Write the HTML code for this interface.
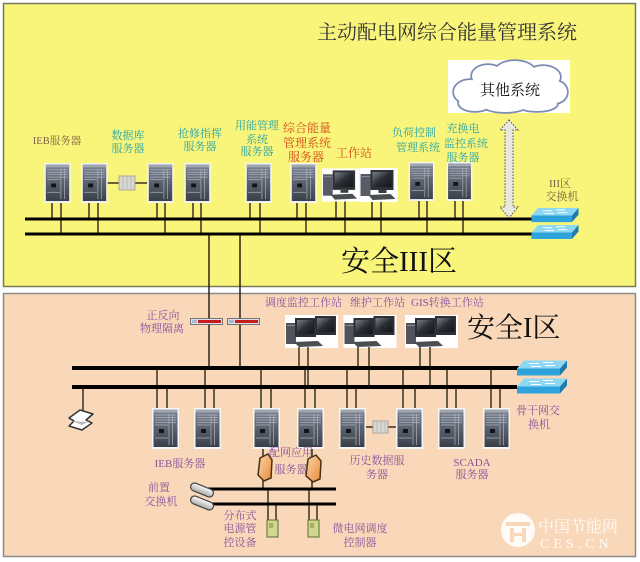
<!DOCTYPE html>
<html><head><meta charset="utf-8">
<style>
html,body{margin:0;padding:0;background:#fff;}
svg{display:block;}
text{font-family:"Liberation Serif","Noto Serif CJK SC",serif;}
</style></head><body>
<svg width="640" height="562" viewBox="0 0 640 562" xmlns="http://www.w3.org/2000/svg" xmlns:xlink="http://www.w3.org/1999/xlink">
<defs>
<linearGradient id="gsrv" x1="0" y1="0" x2="0" y2="1">
 <stop offset="0" stop-color="#7d8492"/><stop offset="1" stop-color="#394049"/>
</linearGradient>
<linearGradient id="gscr" x1="0" y1="0" x2="1" y2="1">
 <stop offset="0" stop-color="#7a8088"/><stop offset="0.5" stop-color="#2a2e34"/><stop offset="1" stop-color="#121417"/>
</linearGradient>
<linearGradient id="gor" x1="0" y1="0" x2="1" y2="1">
 <stop offset="0" stop-color="#fbd7a8"/><stop offset="1" stop-color="#e88a3c"/>
</linearGradient>
<linearGradient id="gcap" x1="0" y1="0" x2="0" y2="1">
 <stop offset="0" stop-color="#ffffff"/><stop offset="1" stop-color="#a8a8a8"/>
</linearGradient>
<symbol id="srv" viewBox="0 0 27 41">
 <rect x="0" y="0" width="27" height="41" fill="#f6f6f6"/>
 <rect x="1.5" y="1.5" width="24" height="37.5" fill="url(#gsrv)"/>
 <rect x="1.5" y="1.5" width="24" height="3" fill="#a0a6b0"/>
 <g stroke="#b0b6c0" stroke-width="0.7">
  <line x1="3" y1="7" x2="24" y2="7"/>
  <line x1="3" y1="9.5" x2="24" y2="9.5"/>
  <line x1="3" y1="12" x2="24" y2="12"/>
  <line x1="3" y1="14.5" x2="24" y2="14.5"/>
  <line x1="3" y1="17" x2="16" y2="17"/>
  <line x1="17" y1="6" x2="17" y2="37"/>
  <line x1="20.5" y1="6" x2="20.5" y2="37"/>
  <line x1="3" y1="30" x2="16" y2="30"/>
 </g>
 <rect x="7" y="21" width="5" height="4" fill="#111418"/>
</symbol>
<symbol id="ws1" viewBox="0 0 38 34">
 <rect width="38" height="34" fill="#fff"/>
 <rect x="1" y="6" width="10" height="22" fill="#585c64"/>
 <rect x="2" y="8" width="8" height="1" fill="#8a8e96"/>
 <rect x="11" y="2" width="23" height="20" fill="#2e3137"/>
 <rect x="13" y="4" width="19" height="15" fill="url(#gscr)"/>
 <rect x="19" y="22" width="8" height="3" fill="#3a3d42"/>
 <polygon points="9,27 31,26 36,31 13,32" fill="#4a4d52"/>
</symbol>
<symbol id="ws2" viewBox="0 0 53 33">
 <rect width="53" height="33" fill="#fff"/>
 <rect x="1" y="8" width="10" height="21" fill="#50545c"/>
 <rect x="2" y="10" width="8" height="1" fill="#8a8e96"/>
 <rect x="10" y="3" width="21" height="19" fill="#2c2f35"/>
 <rect x="12" y="5" width="17" height="14" fill="url(#gscr)"/>
 <rect x="30" y="1" width="21" height="19" fill="#2c2f35"/>
 <rect x="32" y="3" width="17" height="14" fill="url(#gscr)"/>
 <polygon points="9,27 33,26 38,31 14,32" fill="#4a4d52"/>
</symbol>
<symbol id="sw" viewBox="0 0 50 34">
 <g>
  <polygon points="7,0 50,0 43,8 0,8" fill="#8cd8f2"/>
  <polygon points="0,8 43,8 43,15 0,15" fill="#2ea2da"/>
  <polygon points="43,8 50,0 50,7 43,15" fill="#1c7cb0"/>
  <g stroke="#fff" stroke-width="1"><line x1="12" y1="3" x2="22" y2="3"/><line x1="28" y1="5" x2="38" y2="5"/><line x1="14" y1="6" x2="24" y2="6"/><line x1="26" y1="2" x2="36" y2="2"/></g>
 </g>
 <g transform="translate(0,18)">
  <polygon points="7,0 50,0 43,8 0,8" fill="#8cd8f2"/>
  <polygon points="0,8 43,8 43,15 0,15" fill="#2ea2da"/>
  <polygon points="43,8 50,0 50,7 43,15" fill="#1c7cb0"/>
  <g stroke="#fff" stroke-width="1"><line x1="12" y1="3" x2="22" y2="3"/><line x1="28" y1="5" x2="38" y2="5"/><line x1="14" y1="6" x2="24" y2="6"/><line x1="26" y1="2" x2="36" y2="2"/></g>
 </g>
</symbol>
<symbol id="fw" viewBox="0 0 33 7">
 <rect x="0.5" y="0.5" width="32" height="6" fill="#dde0e8" stroke="#5a5a60" stroke-width="0.8"/>
 <rect x="8" y="2" width="23" height="3" fill="#c81c1c"/>
 <rect x="2" y="2" width="5" height="3" fill="#a8b8d0"/>
</symbol>
</defs>

<rect x="0" y="0" width="640" height="562" fill="#fff"/>
<rect x="3.5" y="3.5" width="632" height="283" fill="#f9f57a" stroke="#7a7a5a" stroke-width="1.5"/>
<rect x="3.5" y="293.5" width="632" height="263" fill="#f9d8ba" stroke="#8a8a8a" stroke-width="1.5"/>

<!-- title -->
<text x="317" y="39" font-size="20" fill="#333">主动配电网综合能量管理系统</text>

<!-- cloud -->
<rect x="448" y="60" width="122" height="53" fill="#fff"/>
<g fill="#fff" stroke="#7d8cb4" stroke-width="3.5">
 <ellipse cx="470" cy="92" rx="16" ry="12"/>
 <ellipse cx="488" cy="76" rx="16" ry="11"/>
 <ellipse cx="515" cy="72" rx="20" ry="11"/>
 <ellipse cx="543" cy="77" rx="17" ry="11"/>
 <ellipse cx="555" cy="92" rx="12" ry="11"/>
 <ellipse cx="537" cy="104" rx="20" ry="7"/>
 <ellipse cx="505" cy="105" rx="22" ry="7"/>
 <ellipse cx="475" cy="103" rx="16" ry="8"/>
</g>
<g fill="#fff">
 <ellipse cx="470" cy="92" rx="16" ry="12"/>
 <ellipse cx="488" cy="76" rx="16" ry="11"/>
 <ellipse cx="515" cy="72" rx="20" ry="11"/>
 <ellipse cx="543" cy="77" rx="17" ry="11"/>
 <ellipse cx="555" cy="92" rx="12" ry="11"/>
 <ellipse cx="537" cy="104" rx="20" ry="7"/>
 <ellipse cx="505" cy="105" rx="22" ry="7"/>
 <ellipse cx="475" cy="103" rx="16" ry="8"/>
 <ellipse cx="512" cy="90" rx="44" ry="16"/>
</g>
<text x="510" y="95" font-size="15" fill="#111" text-anchor="middle">其他系统</text>

<!-- double arrow -->
<polygon points="509,120 518,130 513,130 513,207 518,207 509,218 500,207 505,207 505,130 500,130" fill="#e8e8e0" stroke="#6a6a60" stroke-width="1.2" stroke-dasharray="1.5,1.5"/>

<!-- top drop lines -->
<g stroke="#3a3020" stroke-width="1.5">
 <line x1="52" y1="202" x2="52" y2="219"/><line x1="61" y1="202" x2="61" y2="234"/>
 <line x1="89" y1="202" x2="89" y2="219"/><line x1="98" y1="202" x2="98" y2="234"/>
 <line x1="157" y1="202" x2="157" y2="219"/><line x1="165" y1="202" x2="165" y2="234"/>
 <line x1="193" y1="202" x2="193" y2="219"/><line x1="201" y1="202" x2="201" y2="234"/>
 <line x1="250" y1="202" x2="250" y2="219"/><line x1="260" y1="202" x2="260" y2="234"/>
 <line x1="297" y1="202" x2="297" y2="219"/><line x1="306" y1="202" x2="306" y2="234"/>
 <line x1="336" y1="200" x2="336" y2="219"/><line x1="345" y1="200" x2="345" y2="234"/>
 <line x1="372" y1="200" x2="372" y2="219"/><line x1="381" y1="200" x2="381" y2="234"/>
 <line x1="419" y1="200" x2="419" y2="219"/><line x1="427" y1="200" x2="427" y2="234"/>
 <line x1="455" y1="200" x2="455" y2="219"/><line x1="463" y1="200" x2="463" y2="234"/>
 <line x1="107" y1="183" x2="147" y2="183"/>
</g>
<!-- storage box top -->
<rect x="119" y="176" width="16" height="14" fill="#d8d8d0" stroke="#999" stroke-width="0.8"/>
<g stroke="#aaa" stroke-width="0.6"><line x1="123" y1="177" x2="123" y2="189"/><line x1="127" y1="177" x2="127" y2="189"/><line x1="131" y1="177" x2="131" y2="189"/></g>

<!-- top servers -->
<use xlink:href="#srv" x="44" y="163" width="27" height="40"/>
<use xlink:href="#srv" x="81" y="163" width="27" height="40"/>
<use xlink:href="#srv" x="147" y="163" width="27" height="40"/>
<use xlink:href="#srv" x="184" y="163" width="27" height="40"/>
<use xlink:href="#srv" x="245" y="163" width="27" height="40"/>
<use xlink:href="#srv" x="290" y="163" width="27" height="40"/>
<use xlink:href="#srv" x="408" y="162" width="27" height="39"/>
<use xlink:href="#srv" x="446" y="162" width="27" height="39"/>
<use xlink:href="#ws1" x="322" y="168" width="37" height="34"/>
<use xlink:href="#ws1" x="359" y="168" width="39" height="34"/>

<!-- vertical connectors -->
<g stroke="#2a2418" stroke-width="1.5">
 <line x1="209" y1="234" x2="209" y2="368"/>
 <line x1="240" y1="234" x2="240" y2="368"/>
</g>

<!-- top buses -->
<g stroke="#000" stroke-width="3">
 <line x1="25" y1="219" x2="533" y2="219"/>
 <line x1="25" y1="234" x2="533" y2="234"/>
</g>
<use xlink:href="#sw" x="530" y="208" width="50" height="32"/>

<!-- top labels -->
<g font-size="11" text-anchor="middle">
 <text x="57" y="144" fill="#7c6048" font-size="10.5">IEB服务器</text>
 <g fill="#25a3ad">
  <text x="128" y="139">数据库</text><text x="128" y="152">服务器</text>
  <text x="200" y="137">抢修指挥</text><text x="200" y="150">服务器</text>
  <text x="257" y="129">用能管理</text><text x="257" y="143">系统</text><text x="257" y="155">服务器</text>
  <text x="414" y="136">负荷控制</text><text x="418" y="151">管理系统</text>
  <text x="463" y="132">充换电</text><text x="466" y="147">监控系统</text><text x="463" y="161">服务器</text>
 </g>
 <g fill="#d4461a" font-size="12">
  <text x="307" y="132">综合能量</text><text x="307" y="147">管理系统</text><text x="306" y="161">服务器</text>
  <text x="354" y="157">工作站</text>
 </g>
 <text x="560" y="187" fill="#7c6048">III区</text>
 <text x="562" y="200" fill="#7c6048">交换机</text>
</g>
<text x="341" y="271" font-size="29" fill="#111">安全III区</text>

<!-- bottom section -->
<use xlink:href="#fw" x="190" y="318" width="33" height="7"/>
<use xlink:href="#fw" x="227" y="318" width="33" height="7"/>
<g fill="#8c509c" font-size="11" text-anchor="middle">
 <text x="163" y="319">正反向</text><text x="162" y="332">物理隔离</text>
</g>
<g fill="#8c509c" font-size="11">
 <text x="265" y="306">调度监控工作站</text>
 <text x="350" y="306">维护工作站</text>
 <text x="411" y="306">GIS转换工作站</text>
</g>
<text x="467" y="337" font-size="28" fill="#111">安全I区</text>

<use xlink:href="#ws2" x="285" y="315" width="53" height="33"/>
<use xlink:href="#ws2" x="343" y="315" width="54" height="33"/>
<use xlink:href="#ws2" x="405" y="315" width="53" height="33"/>

<g stroke="#3a3020" stroke-width="1.5">
 <line x1="299" y1="347" x2="299" y2="368"/><line x1="308" y1="347" x2="308" y2="387"/>
 <line x1="358" y1="347" x2="358" y2="368"/><line x1="369" y1="347" x2="369" y2="387"/>
 <line x1="420" y1="347" x2="420" y2="368"/><line x1="430" y1="347" x2="430" y2="387"/>
 <line x1="157" y1="368" x2="157" y2="409"/><line x1="167" y1="387" x2="167" y2="409"/>
 <line x1="205" y1="368" x2="205" y2="409"/><line x1="214" y1="387" x2="214" y2="409"/>
 <line x1="261" y1="368" x2="261" y2="409"/><line x1="271" y1="387" x2="271" y2="409"/>
 <line x1="305" y1="368" x2="305" y2="409"/><line x1="315" y1="387" x2="315" y2="409"/>
 <line x1="347" y1="368" x2="347" y2="409"/><line x1="356" y1="387" x2="356" y2="409"/>
 <line x1="403" y1="368" x2="403" y2="409"/><line x1="415" y1="387" x2="415" y2="409"/>
 <line x1="447" y1="368" x2="447" y2="409"/><line x1="456" y1="387" x2="456" y2="409"/>
 <line x1="491" y1="368" x2="491" y2="409"/><line x1="500" y1="387" x2="500" y2="409"/>
 <line x1="83" y1="387" x2="83" y2="413"/>
 <line x1="366" y1="427" x2="396" y2="427"/>
 <line x1="263" y1="447" x2="263" y2="489"/>
 <line x1="312" y1="447" x2="312" y2="489"/>
 <line x1="268" y1="489" x2="268" y2="521"/><line x1="276" y1="504" x2="276" y2="521"/>
 <line x1="309" y1="489" x2="309" y2="521"/><line x1="317" y1="504" x2="317" y2="521"/>
</g>

<!-- bottom buses -->
<g stroke="#000" stroke-width="4">
 <line x1="72" y1="368" x2="520" y2="368"/>
 <line x1="72" y1="387" x2="517" y2="387"/>
</g>
<g stroke="#000" stroke-width="3">
 <line x1="208" y1="489" x2="336" y2="489"/>
 <line x1="208" y1="504" x2="336" y2="504"/>
</g>
<use xlink:href="#sw" x="517" y="360" width="50" height="35"/>

<!-- bottom servers -->
<use xlink:href="#srv" x="152" y="408" width="27" height="41"/>
<use xlink:href="#srv" x="194" y="408" width="27" height="41"/>
<use xlink:href="#srv" x="253" y="408" width="27" height="41"/>
<use xlink:href="#srv" x="297" y="408" width="27" height="41"/>
<use xlink:href="#srv" x="339" y="408" width="27" height="41"/>
<use xlink:href="#srv" x="396" y="408" width="27" height="41"/>
<use xlink:href="#srv" x="438" y="408" width="27" height="41"/>
<use xlink:href="#srv" x="483" y="408" width="27" height="41"/>
<rect x="373" y="421" width="15" height="12" fill="#d8d8d0" stroke="#999" stroke-width="0.8"/>
<g stroke="#aaa" stroke-width="0.6"><line x1="377" y1="422" x2="377" y2="432"/><line x1="381" y1="422" x2="381" y2="432"/><line x1="385" y1="422" x2="385" y2="432"/></g>

<!-- printer -->
<polygon points="69,418 80,410 93,414 86,420 92,423 82,430 69,426 74,421" fill="#fff" stroke="#333" stroke-width="1.5" stroke-linejoin="round"/>
<polygon points="72,421 82,425 88,422" fill="#bbb"/>

<!-- orange firewalls -->
<path d="M260,458 L268,454 L272,460 L271,478 L264,481 L258,475 Z" fill="url(#gor)" stroke="#4a3010" stroke-width="1.5"/>
<path d="M308,459 L316,455 L321,461 L320,479 L313,482 L306,476 Z" fill="url(#gor)" stroke="#4a3010" stroke-width="1.5"/>

<!-- front switches -->
<rect x="190" y="486" width="24" height="8" rx="4" transform="rotate(22 202 490)" fill="url(#gcap)" stroke="#444" stroke-width="1.2"/>
<rect x="190" y="499" width="24" height="8" rx="4" transform="rotate(22 202 503)" fill="url(#gcap)" stroke="#444" stroke-width="1.2"/>

<!-- green devices -->
<rect x="267" y="520" width="11" height="17" fill="#cfd88e" stroke="#5e6e30" stroke-width="1"/>
<rect x="269" y="523" width="4" height="5" fill="#a8b060"/>
<rect x="308" y="520" width="11" height="17" fill="#cfd88e" stroke="#5e6e30" stroke-width="1"/>
<rect x="310" y="523" width="4" height="5" fill="#a8b060"/>

<!-- bottom labels -->
<g fill="#8c509c" font-size="11" text-anchor="middle">
 <text x="180" y="467">IEB服务器</text>
 <text x="291" y="456">配网应用</text><text x="291" y="473">服务器</text>
 <text x="377" y="464">历史数据服</text><text x="377" y="478">务器</text>
 <text x="472" y="466">SCADA</text><text x="472" y="478">服务器</text>
 <text x="538" y="414">骨干网交</text><text x="539" y="428">换机</text>
 <text x="159" y="491">前置</text><text x="161" y="505">交换机</text>
 <text x="240" y="519">分布式</text><text x="240" y="532">电源管</text><text x="240" y="546">控设备</text>
 <text x="360" y="532">微电网调度</text><text x="360" y="546">控制器</text>
</g>

<!-- watermark -->
<g opacity="0.9">
 <circle cx="518" cy="530" r="17" fill="#fff"/>
 <rect x="506" y="522" width="24" height="4" fill="#f9d8ba"/>
 <rect x="510" y="528" width="4" height="14" fill="#f9d8ba"/>
 <rect x="522" y="528" width="4" height="14" fill="#f9d8ba"/>
 <rect x="510" y="533" width="16" height="3" fill="#f9d8ba"/>
 <text x="538" y="532" font-size="16" fill="#fff" font-family="'Liberation Sans','Noto Sans CJK SC',sans-serif">中国节能网</text>
 <text x="540" y="548" font-size="14" fill="#fff" letter-spacing="4" font-family="'Liberation Sans',sans-serif">CES.CN</text>
</g>
</svg>
</body></html>
